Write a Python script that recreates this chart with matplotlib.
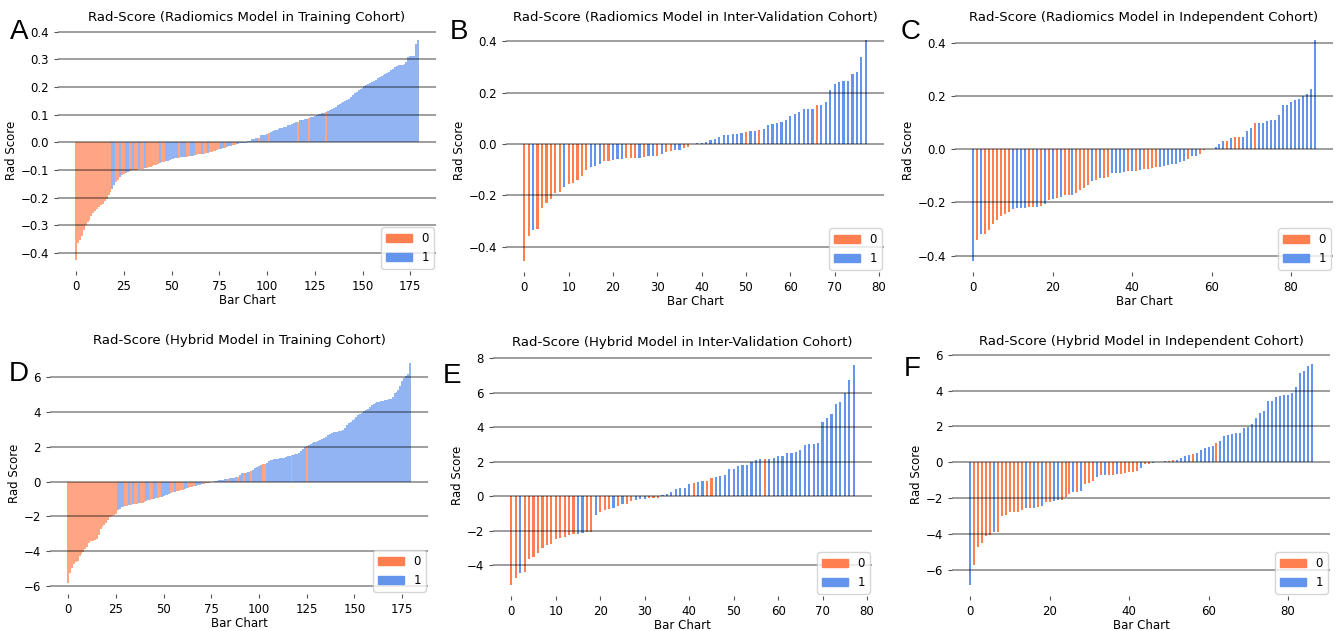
import matplotlib
matplotlib.use("Agg")
import matplotlib.pyplot as plt
from matplotlib.patches import Patch
from matplotlib.ticker import MultipleLocator

# colours for the two classes
C0 = "coral"
C1 = "cornflowerblue"

# --- data (sorted rad-scores, class of each bar) ---
rad_train = [
    -0.426, -0.365, -0.352, -0.340, -0.318, -0.300, -0.290, -0.282, -0.265, -0.255,
    -0.248, -0.240, -0.234, -0.228, -0.222, -0.214, -0.205, -0.190, -0.180,
    -0.168, -0.155, -0.142, -0.135, -0.126, -0.120, -0.115, -0.110, -0.106, -0.104, -0.102,
    -0.101, -0.100, -0.099, -0.098, -0.097, -0.096, -0.094, -0.092, -0.090, -0.088,
    -0.086, -0.083, -0.081, -0.079, -0.076, -0.073, -0.070, -0.068, -0.066, -0.064,
    -0.062, -0.060, -0.058, -0.057, -0.056, -0.055, -0.054, -0.053, -0.052, -0.051,
    -0.049, -0.048, -0.046, -0.045, -0.044, -0.043, -0.042, -0.041, -0.040, -0.038,
    -0.036, -0.034, -0.032, -0.030, -0.028, -0.026, -0.024, -0.022, -0.019, -0.017,
    -0.015, -0.013, -0.011, -0.010, -0.008, -0.006, -0.004, -0.003, -0.002, -0.001,
    0.003, 0.006, 0.010, 0.013, 0.015, 0.016, 0.017, 0.025, 0.027, 0.028,
    0.030, 0.035, 0.037, 0.040, 0.043, 0.046, 0.048, 0.050, 0.052, 0.054,
    0.057, 0.061, 0.063, 0.066, 0.068, 0.072, 0.075, 0.080, 0.081, 0.082,
    0.083, 0.084, 0.086, 0.090, 0.093, 0.096, 0.099, 0.101, 0.103, 0.105,
    0.107, 0.110, 0.112, 0.116, 0.120, 0.125, 0.129, 0.134, 0.139, 0.143,
    0.147, 0.149, 0.153, 0.158, 0.164, 0.170, 0.177, 0.182, 0.188, 0.193,
    0.198, 0.202, 0.206, 0.210, 0.214, 0.219, 0.223, 0.227, 0.231, 0.235,
    0.238, 0.242, 0.246, 0.250, 0.255, 0.260, 0.266, 0.272, 0.276, 0.278,
    0.279, 0.280, 0.282, 0.290, 0.310, 0.311, 0.312, 0.313, 0.355, 0.370,
]
cls_rad_train = ("0000000000000000000 11 00 1 00 11 00 1 00 1 00 1 0000000 1 00 1111111 0 111 00 111 000 1 00 1 "
                 "000000 11 0 111 00 111111111111 0 1111 0 11111111111111 0 11111 0 11111111 0 "
                 "111111111111111111111111111111111111111111111111")

rad_inter = [
    -0.456, -0.357, -0.335, -0.331, -0.249, -0.231, -0.216, -0.191, -0.186, -0.169,
    -0.158, -0.152, -0.139, -0.123, -0.100, -0.090, -0.086, -0.077, -0.068, -0.066,
    -0.063, -0.060, -0.058, -0.056, -0.055, -0.054, -0.053, -0.050, -0.047, -0.046,
    -0.045, -0.040, -0.030, -0.027, -0.025, -0.022, -0.015, -0.010, -0.002, 0.003,
    0.003, 0.006, 0.016, 0.018, 0.028, 0.033, 0.036, 0.038, 0.040, 0.043,
    0.045, 0.050, 0.052, 0.055, 0.058, 0.075, 0.076, 0.082, 0.084, 0.095,
    0.110, 0.115, 0.125, 0.136, 0.136, 0.137, 0.153, 0.153, 0.163, 0.210,
    0.232, 0.240, 0.245, 0.246, 0.272, 0.280, 0.340, 0.405,
]
cls_rad_inter = ("0010000001 0000011100 1110001011 0100110011 "
                 "1111111111 0110111111 1111110111 11111111")

rad_indep = [
    -0.420, -0.340, -0.320, -0.318, -0.305, -0.280, -0.265, -0.250, -0.245, -0.235,
    -0.225, -0.222, -0.221, -0.220, -0.219, -0.218, -0.216, -0.213, -0.205, -0.190,
    -0.188, -0.185, -0.178, -0.173, -0.172, -0.171, -0.165, -0.155, -0.145, -0.135,
    -0.118, -0.115, -0.108, -0.107, -0.106, -0.090, -0.090, -0.089, -0.085, -0.083,
    -0.082, -0.081, -0.077, -0.075, -0.074, -0.070, -0.068, -0.066, -0.064, -0.060,
    -0.057, -0.055, -0.050, -0.045, -0.038, -0.025, -0.024, -0.020, -0.003, -0.001,
    0.002, 0.010, 0.018, 0.030, 0.032, 0.042, 0.045, 0.046, 0.047, 0.068,
    0.080, 0.097, 0.098, 0.100, 0.105, 0.108, 0.110, 0.128, 0.165, 0.165,
    0.178, 0.185, 0.190, 0.198, 0.208, 0.225, 0.410,
]
cls_rad_indep = ("1010000000 1111001010 1010010000 1010011110 "
                 "1010000111 1111011001 1111010011 1011111111 1111111")

hyb_train = [
    -5.83, -5.26, -4.97, -4.72, -4.65, -4.55, -4.30, -4.15, -4.02, -3.90,
    -3.75, -3.55, -3.44, -3.40, -3.36, -3.28, -3.05, -2.75, -2.60, -2.52,
    -2.35, -2.20, -2.02, -1.98, -1.92, -1.85, -1.62, -1.55, -1.48, -1.44,
    -1.41, -1.38, -1.35, -1.33, -1.31, -1.29, -1.27, -1.25, -1.24, -1.20,
    -1.16, -1.12, -1.08, -1.05, -1.02, -0.99, -0.96, -0.93, -0.90, -0.86,
    -0.82, -0.78, -0.74, -0.70, -0.66, -0.62, -0.58, -0.55, -0.51, -0.48,
    -0.45, -0.42, -0.39, -0.36, -0.33, -0.30, -0.27, -0.24, -0.21, -0.18,
    -0.15, -0.12, -0.09, -0.07, -0.05, -0.03, -0.01, 0.02, 0.05, 0.08,
    0.10, 0.12, 0.14, 0.15, 0.17, 0.19, 0.21, 0.24, 0.26, 0.29,
    0.38, 0.48, 0.50, 0.52, 0.55, 0.57, 0.62, 0.70, 0.80, 0.86,
    0.90, 0.95, 1.00, 1.02, 1.10, 1.18, 1.24, 1.26, 1.28, 1.30,
    1.32, 1.34, 1.36, 1.38, 1.42, 1.46, 1.49, 1.52, 1.56, 1.60,
    1.62, 1.66, 1.75, 1.90, 2.00, 2.05, 2.10, 2.16, 2.21, 2.26,
    2.30, 2.34, 2.38, 2.44, 2.54, 2.60, 2.66, 2.74, 2.80, 2.85,
    2.87, 2.88, 2.90, 2.92, 3.00, 3.10, 3.25, 3.35, 3.45, 3.55,
    3.63, 3.72, 3.82, 3.92, 3.98, 4.05, 4.12, 4.20, 4.30, 4.40,
    4.48, 4.52, 4.56, 4.59, 4.62, 4.65, 4.68, 4.72, 4.75, 4.78,
    4.90, 5.10, 5.16, 5.25, 5.50, 5.80, 5.95, 6.10, 6.21, 6.83,
]
cls_hyb_train = ("00000000000000000000000000 1111 00 1 0 1 00 1 000 11 00 11 00 11111 00 1 0000 11 0000 1111 0000 "
                 "111111111 0 1111 0 11 0 111 0 11111 00 1111111111111 0 1111111 0 "
                 "111111111111111111111111111111111111111111111111111111")

hyb_inter = [
    -5.15, -4.76, -4.43, -4.37, -3.64, -3.50, -3.28, -3.02, -2.83, -2.80,
    -2.50, -2.42, -2.36, -2.24, -2.20, -2.17, -2.15, -2.10, -2.08, -1.08,
    -0.90, -0.82, -0.72, -0.68, -0.60, -0.46, -0.43, -0.26, -0.20, -0.18,
    -0.16, -0.12, -0.10, -0.08, 0.08, 0.10, 0.25, 0.40, 0.45, 0.48,
    0.68, 0.77, 0.80, 0.85, 0.88, 1.08, 1.10, 1.15, 1.25, 1.55,
    1.56, 1.77, 1.78, 1.80, 2.00, 2.10, 2.15, 2.17, 2.18, 2.22,
    2.30, 2.33, 2.50, 2.52, 2.55, 2.70, 2.95, 3.00, 3.02, 3.10,
    4.30, 4.50, 4.75, 5.35, 5.45, 5.95, 6.75, 7.60,
]
cls_hyb_inter = ("0010000000 0000011001 0001010011 1000111111 "
                 "1011001111 1111111011 1111111111 11111111")

hyb_indep = [
    -6.85, -5.75, -4.75, -4.52, -4.12, -4.05, -3.92, -3.90, -3.02, -2.95,
    -2.78, -2.77, -2.76, -2.65, -2.58, -2.57, -2.55, -2.50, -2.45, -2.22,
    -2.20, -2.15, -2.12, -2.10, -1.92, -1.78, -1.68, -1.65, -1.63, -1.22,
    -1.18, -1.05, -0.80, -0.72, -0.70, -0.70, -0.70, -0.67, -0.64, -0.62,
    -0.56, -0.52, -0.48, -0.32, -0.12, -0.10, -0.02, 0.02, 0.04, 0.06,
    0.08, 0.10, 0.12, 0.22, 0.32, 0.38, 0.48, 0.52, 0.70, 0.82,
    0.83, 0.90, 1.05, 1.20, 1.48, 1.50, 1.58, 1.65, 1.65, 1.92,
    1.95, 2.15, 2.45, 2.75, 2.85, 3.40, 3.40, 3.62, 3.72, 3.75,
    3.76, 3.85, 4.20, 5.00, 5.10, 5.35, 5.48,
]
cls_hyb_indep = ("1000001000 0000101010 0110001010 0010100100 "
                 "0001001111 0011110111 1101111111 1111111111 1111111")

panels = [
    ("A", "Rad-Score (Radiomics Model in Training Cohort)", rad_train, cls_rad_train, (58, 29, 436, 271), 0.1, 25),
    ("B", "Rad-Score (Radiomics Model in Inter-Validation Cohort)", rad_inter, cls_rad_inter, (506, 29, 884, 272), 0.2, 10),
    ("C", "Rad-Score (Radiomics Model in Independent Cohort)", rad_indep, cls_rad_indep, (955, 29, 1333, 272), 0.2, 20),
    ("D", "Rad-Score (Hybrid Model in Training Cohort)", hyb_train, cls_hyb_train, (50, 352, 428, 594), 2, 25),
    ("E", "Rad-Score (Hybrid Model in Inter-Validation Cohort)", hyb_inter, cls_hyb_inter, (493, 354, 872, 596), 2, 10),
    ("F", "Rad-Score (Hybrid Model in Independent Cohort)", hyb_indep, cls_hyb_indep, (952, 353, 1330, 596), 2, 20),
]
letter_pos = {"A": (19, 32), "B": (459, 32), "C": (911, 32), "D": (19, 374), "E": (452, 376), "F": (912, 369)}

W, H = 1341, 631
fig = plt.figure(figsize=(W / 100, H / 100), dpi=100)

for letter, title, vals, cls, (x0, y0, x1, y1), ystep, xstep in panels:
    labels = [int(c) for c in cls if c in "01"]
    ax = fig.add_axes([x0 / W, 1 - y1 / H, (x1 - x0) / W, (y1 - y0) / H])
    xs = list(range(len(vals)))
    cols = [C0 if l == 0 else C1 for l in labels]
    if len(vals) > 150:
        # dense panels: bars touch and look paler
        ax.bar(xs, vals, width=1.0, color=cols, alpha=0.7, linewidth=0)
    else:
        ax.bar(xs, vals, width=0.5, color=cols, linewidth=0)
    ax.yaxis.set_major_locator(MultipleLocator(ystep))
    ax.xaxis.set_major_locator(MultipleLocator(xstep))
    ax.grid(axis="y", color="black", alpha=0.38, linewidth=1.4)
    ax.set_axisbelow(False)
    for s in ax.spines.values():
        s.set_visible(False)
    ax.tick_params(labelsize=8.5, length=3, color="#555555")
    ax.set_title(title, fontsize=9.5, pad=6)
    ax.set_xlabel("Bar Chart", fontsize=8.5, labelpad=1)
    ax.set_ylabel("Rad Score", fontsize=8.5, labelpad=2)
    handles = [Patch(color=C0, label="0"), Patch(color=C1, label="1")]
    ax.legend(handles=handles, loc="lower right", fontsize=8.5, handlelength=2.2,
              borderaxespad=0.2)
    lx, ly = letter_pos[letter]
    fig.text(lx / W, 1 - ly / H, letter, fontsize=20, family="Liberation Sans",
             ha="center", va="center")

fig.savefig("out.png", dpi=100)
